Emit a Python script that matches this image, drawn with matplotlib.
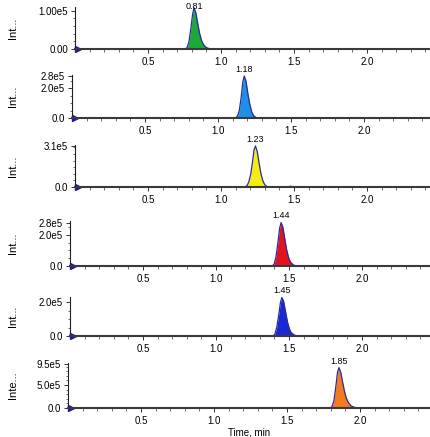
import matplotlib.pyplot as plt
from matplotlib.ticker import MultipleLocator
from matplotlib.transforms import offset_copy

plt.rcParams['font.family'] = ['Liberation Sans', 'DejaVu Sans']

# retention time labels shown above each peak
peak_labels = ["0.81", "1.18", "1.23", "1.44", "1.45", "1.85"]
y_labels = ["Int...", "Int...", "Int...", "Int...", "Int...", "Inte..."]

# chromatogram traces (time in min, intensity in cps)
t1 = [0.00, 0.755, 0.768, 0.781, 0.794, 0.805, 0.815, 0.827, 0.840, 0.853, 0.866, 0.879, 0.895, 0.91, 0.935, 2.60]
i1 = [0, 0, 4e3, 2.0e4, 5.5e4, 9.0e4, 1.08e5, 9.6e4, 6.8e4, 4.2e4, 2.3e4, 1.2e4, 5e3, 2e3, 0, 0]

t2 = [0.00, 1.12, 1.133, 1.146, 1.159, 1.170, 1.180, 1.192, 1.205, 1.218, 1.231, 1.245, 1.265, 2.60]
i2 = [0, 0, 1.2e4, 5e4, 1.4e5, 2.4e5, 2.8e5, 2.45e5, 1.6e5, 9e4, 4e4, 1.4e4, 0, 0]

t3 = [0.00, 1.165, 1.178, 1.191, 1.204, 1.216, 1.226, 1.236, 1.248, 1.261, 1.274, 1.287, 1.30, 1.32,
      1.46, 1.47, 1.48, 1.49, 1.50, 2.60]
i3 = [0, 0, 1e4, 4e4, 1e5, 1.9e5, 2.8e5, 3.1e5, 2.7e5, 1.8e5, 1e5, 4.5e4, 1.7e4, 0,
      0, 4e3, 6e3, 3e3, 0, 0]

t4 = [0.00, 1.385, 1.398, 1.411, 1.424, 1.436, 1.446, 1.458, 1.471, 1.484, 1.497, 1.51, 1.53, 1.55, 2.60]
i4 = [0, 0, 1.2e4, 6e4, 1.5e5, 2.45e5, 2.8e5, 2.5e5, 1.75e5, 1.05e5, 5.5e4, 2.5e4, 7e3, 0, 0]

t5 = [0.00, 1.39, 1.403, 1.416, 1.429, 1.441, 1.451, 1.463, 1.476, 1.489, 1.502, 1.515, 1.535, 1.555, 2.60]
i5 = [0, 0, 1e4, 5e4, 1.2e5, 1.95e5, 2.28e5, 2.05e5, 1.45e5, 8.5e4, 4.3e4, 2e4, 6e3, 0, 0]

t6 = [0.00, 1.795, 1.808, 1.821, 1.834, 1.846, 1.856, 1.868, 1.881, 1.894, 1.907, 1.92, 1.94, 1.96, 1.99, 2.60]
i6 = [0, 0, 3e4, 1.5e5, 4.5e5, 7.8e5, 8.8e5, 7.8e5, 5.6e5, 3.6e5, 2.1e5, 1.2e5, 4.5e4, 1.5e4, 0, 0]

times = [t1, t2, t3, t4, t5, t6]
intens = [i1, i2, i3, i4, i5, i6]

y_max = [1.1e5, 2.9e5, 3.2e5, 2.9e5, 2.3e5, 9.8e5]
y_ticks = [[0, 1.0e5], [0, 2.0e5, 2.8e5], [0, 3.1e5], [0, 2.0e5, 2.8e5], [0, 2.0e5], [0, 5.0e5, 9.5e5]]
y_tick_labels = [["0.00", "1.00e5"], ["0.0", "2.0e5", "2.8e5"], ["0.0", "3.1e5"],
                 ["0.0", "2.0e5", "2.8e5"], ["0.0", "2.0e5"], ["0.0", "5.0e5", "9.5e5"]]
y_minor = [2e4, 5e4, 5e4, 5e4, 5e4, 1e5]

fills = ['#1da83a', '#1e90e6', '#f4ee10', '#e3121e', '#1828d6', '#f57a1e']
edge = '#2b2b9c'

# pixel layout: (left, top, baseline)
W, H = 430, 437
boxes = [(75, 7, 49), (72, 74.5, 118), (75, 144.7, 187), (70, 221, 266), (70, 297, 336), (68, 363, 408)]
px_per_min = 146

fig = plt.figure(figsize=(4.3, 4.37), dpi=100)

for k in range(6):
    left, top, base = boxes[k]
    ax = fig.add_axes([left / W, 1 - base / H, (W - left) / W, (base - top) / H])
    t, y = times[k], intens[k]
    ax.fill_between(t, y, color=fills[k], lw=0)
    ax.plot(t, y, color=edge, lw=0.9)
    ax.set_xlim(0, (W - left) / px_per_min)
    ax.set_ylim(0, y_max[k])

    for s in ['top', 'right']:
        ax.spines[s].set_visible(False)
    ax.spines['bottom'].set_linewidth(1.5)
    ax.spines['bottom'].set_color('#3a3a3a')
    ax.spines['left'].set_linewidth(0.8)
    ax.spines['left'].set_color('#222222')

    ax.set_xticks([0.5, 1.0, 1.5, 2.0])
    ax.set_xticklabels(["0.5", "1.0", "1.5", "2.0"])
    ax.xaxis.set_minor_locator(MultipleLocator(0.1))
    ax.set_yticks(y_ticks[k])
    ax.set_yticklabels(y_tick_labels[k])
    ax.yaxis.set_minor_locator(MultipleLocator(y_minor[k]))
    ax.tick_params(which='major', length=3, width=0.7, labelsize=7, pad=2, color='#333333')
    ax.tick_params(which='minor', length=1.8, width=0.6, color='#555555')
    ax.tick_params(axis='x', pad=3)

    ax.set_ylabel(y_labels[k], fontsize=8)
    ax.yaxis.set_label_coords(-(left - 18) / (W - left), 0.5)

    pk = y.index(max(y))
    off = -2 if k == 0 else 1.5
    ax.annotate(peak_labels[k], (t[pk], y[pk]), xytext=(0, off), textcoords='offset points',
                ha='center', va='bottom', fontsize=6.5, annotation_clip=False)

    tri = offset_copy(ax.transData, fig=fig, x=2.5, y=0, units='dots')
    ax.plot([0], [0], marker='>', color='#1a1aa8', ms=5, clip_on=False, transform=tri)

    if k == 5:
        ax.set_xlabel("Time, min", fontsize=7, labelpad=1)

fig.savefig('out.png', dpi=100)
